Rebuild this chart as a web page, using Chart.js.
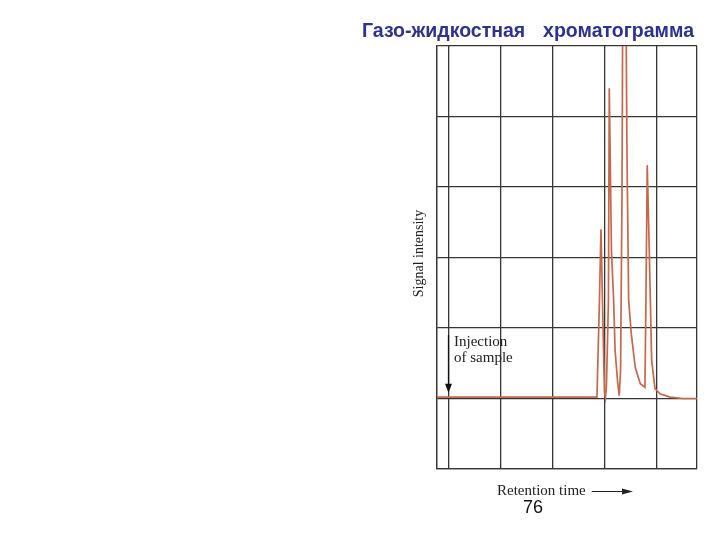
<!DOCTYPE html>
<html>
<head>
<meta charset="utf-8">
<script src="https://cdn.jsdelivr.net/npm/chart.js@4"></script>
<style>
  html, body { margin: 0; padding: 0; background: #ffffff; }
  #wrap { position: relative; width: 720px; height: 540px; }
  canvas { display: block; }
</style>
</head>
<body>
<div id="wrap"><canvas id="c" width="720" height="540"></canvas></div>
<script>
// ---- data ----
const titleWords = ["Газо-жидкостная", "хроматограмма"];
const yAxisLabel = "Signal intensity";
const xAxisLabel = "Retention time";
const injectionLabel = ["Injection", "of sample"];
const pageNumber = "76";

// grid positions (no tick labels in the reference)
const xGrid = [0, 1, 2, 3, 4];
const yGrid = [0, 1, 2, 3, 4];
const xMin = -0.23, xMax = 4.77;
const yMin = -1, yMax = 5;
const injectionTime = 0;

// chromatogram trace
const retentionTime = [-0.23, 2.846, 2.894, 2.923, 2.952, 2.990, 3.010, 3.029, 3.067, 3.083, 3.125, 3.167, 3.195, 3.246, 3.275, 3.300, 3.327, 3.365, 3.423, 3.456, 3.506, 3.583, 3.679, 3.769, 3.788, 3.813, 3.852, 3.898, 3.962, 4.058, 4.25, 4.50, 4.77];
const signal        = [0.02, 0.02, 1.39, 2.40, 1.39, 0.085, 0.01, 0.185, 1.39, 4.40, 2.10, 1.39, 0.68, 0.21, 0.04, 0.40, 2.81, 9.90, 3.52, 1.39, 0.92, 0.44, 0.21, 0.16, 1.39, 3.31, 2.10, 0.54, 0.14, 0.067, 0.02, 0.0, 0.0];

const gridColor = '#363636';
const traceColor = '#c8684a';

const points = retentionTime.map((t, i) => ({ x: t, y: signal[i] }));

const annotations = {
  id: 'annotations',
  afterDraw(chart) {
    const ctx = chart.ctx;
    const xs = chart.scales.x, ys = chart.scales.y;
    ctx.save();

    // title
    ctx.fillStyle = '#2e3192';
    ctx.font = 'bold 19.5px "Liberation Sans", Arial, sans-serif';
    ctx.textBaseline = 'alphabetic';
    ctx.textAlign = 'left';
    ctx.fillText(titleWords[0], 362, 37);
    ctx.textAlign = 'right';
    ctx.fillText(titleWords[1], 694, 37);

    // y axis label (rotated)
    ctx.fillStyle = '#222';
    ctx.font = '14px "Liberation Serif", "Times New Roman", serif';
    ctx.save();
    ctx.translate(423, (ys.top + ys.bottom) / 2 - 4);
    ctx.rotate(-Math.PI / 2);
    ctx.textAlign = 'center';
    ctx.textBaseline = 'alphabetic';
    ctx.fillText(yAxisLabel, 0, 0);
    ctx.restore();

    // x axis label with arrow
    ctx.font = '15px "Liberation Serif", "Times New Roman", serif';
    ctx.textAlign = 'left';
    ctx.textBaseline = 'alphabetic';
    ctx.fillText(xAxisLabel, 497, 495);
    const lx = 497 + ctx.measureText(xAxisLabel).width + 6;
    ctx.strokeStyle = '#222';
    ctx.lineWidth = 1;
    ctx.beginPath();
    ctx.moveTo(lx, 491.5);
    ctx.lineTo(624, 491.5);
    ctx.stroke();
    ctx.beginPath();
    ctx.moveTo(633, 491.5);
    ctx.lineTo(622, 488.5);
    ctx.lineTo(622, 494.5);
    ctx.closePath();
    ctx.fill();

    // injection annotation
    const ix = Math.round(xs.getPixelForValue(injectionTime)) - 0.5;
    const iyTop = ys.getPixelForValue(0.9);
    const iyTip = ys.getPixelForValue(0.08);
    ctx.strokeStyle = '#111';
    ctx.fillStyle = '#111';
    ctx.lineWidth = 1.3;
    ctx.beginPath();
    ctx.moveTo(ix, iyTop);
    ctx.lineTo(ix, iyTip - 6);
    ctx.stroke();
    ctx.beginPath();
    ctx.moveTo(ix, iyTip);
    ctx.lineTo(ix - 3.5, iyTip - 9);
    ctx.lineTo(ix + 3.5, iyTip - 9);
    ctx.closePath();
    ctx.fill();

    ctx.fillStyle = '#222';
    ctx.font = '15px "Liberation Serif", "Times New Roman", serif';
    ctx.textAlign = 'left';
    ctx.fillText(injectionLabel[0], 454, 346);
    ctx.fillText(injectionLabel[1], 454, 362);

    // page number
    ctx.fillStyle = '#111';
    ctx.font = '18px "Liberation Sans", Arial, sans-serif';
    ctx.textAlign = 'center';
    ctx.fillText(pageNumber, 533, 513);

    ctx.restore();
  }
};

const whiteBg = {
  id: 'whiteBg',
  beforeDraw(chart) {
    const ctx = chart.ctx;
    ctx.save();
    ctx.fillStyle = '#ffffff';
    ctx.fillRect(0, 0, chart.width, chart.height);
    ctx.restore();
  }
};

new Chart(document.getElementById('c'), {
  type: 'line',
  data: {
    datasets: [{
      data: points,
      borderColor: traceColor,
      borderWidth: 1.7,
      pointRadius: 0,
      tension: 0,
      fill: false
    }]
  },
  options: {
    responsive: false,
    animation: false,
    layout: { padding: { left: 437, top: 46, right: 23, bottom: 71 } },
    plugins: { legend: { display: false }, tooltip: { enabled: false }, title: { display: false } },
    scales: {
      x: {
        type: 'linear',
        min: xMin, max: xMax,
        afterBuildTicks(scale) { scale.ticks = [xMin, ...xGrid, xMax].map(v => ({ value: v })); },
        ticks: { display: false },
        grid: { color: gridColor, lineWidth: 1.3, drawTicks: false },
        border: { display: true, color: gridColor, width: 1.3 }
      },
      y: {
        type: 'linear',
        min: yMin, max: yMax,
        afterBuildTicks(scale) { scale.ticks = [yMin, ...yGrid, yMax].map(v => ({ value: v })); },
        ticks: { display: false },
        grid: { color: gridColor, lineWidth: 1.3, drawTicks: false },
        border: { display: true, color: gridColor, width: 1.3 }
      }
    }
  },
  plugins: [whiteBg, annotations]
});
</script>
</body>
</html>
